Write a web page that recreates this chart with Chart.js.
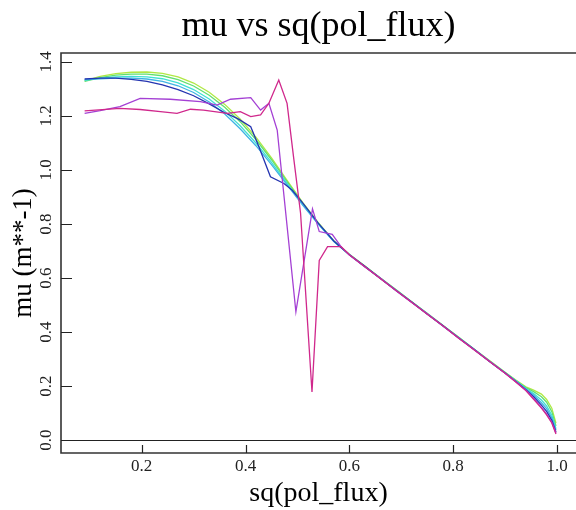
<!DOCTYPE html>
<html>
<head>
<meta charset="utf-8">
<script src="https://cdn.jsdelivr.net/npm/chart.js@4.4.1/dist/chart.umd.min.js"></script>
<style>
  html, body { margin: 0; padding: 0; background: #ffffff; }
  #wrap { width: 576px; height: 510px; }
</style>
</head>
<body>
<div id="wrap"><canvas id="c" width="576" height="510"></canvas></div>
<script>
// ---- data ----
const xGrid = [0.09,0.12,0.15,0.18,0.21,0.24,0.27,0.30,0.33,0.36,0.39,0.42,0.45,0.48,0.51,0.54,0.57,
               0.60,0.63,0.66,0.69,0.72,0.75,0.78,0.81,0.84,0.87,0.90,0.92,0.94,0.955,0.97,0.98,0.99,0.998];
const muLime  = [1.330,1.347,1.357,1.362,1.363,1.358,1.345,1.322,1.288,1.243,1.188,1.122,1.045,0.962,0.880,0.805,0.738,
                 0.688,0.644,0.600,0.556,0.512,0.469,0.425,0.381,0.337,0.294,0.251,0.223,0.197,0.185,0.170,0.150,0.118,0.062];
const muGreen = [1.328,1.342,1.351,1.355,1.355,1.349,1.335,1.311,1.277,1.232,1.178,1.113,1.038,0.957,0.877,0.803,0.737,
                 0.687,0.643,0.599,0.556,0.512,0.468,0.424,0.381,0.337,0.293,0.250,0.221,0.194,0.179,0.160,0.140,0.105,0.052];
const muAqua  = [1.332,1.340,1.345,1.347,1.345,1.338,1.323,1.298,1.263,1.218,1.163,1.100,1.028,0.950,0.873,0.801,0.736,
                 0.687,0.643,0.599,0.555,0.511,0.468,0.424,0.380,0.336,0.292,0.249,0.220,0.191,0.172,0.148,0.126,0.092,0.042];
const muSky   = [1.335,1.338,1.340,1.340,1.337,1.328,1.312,1.287,1.252,1.207,1.152,1.090,1.020,0.945,0.870,0.800,0.735,
                 0.686,0.642,0.598,0.555,0.511,0.467,0.423,0.380,0.336,0.292,0.248,0.219,0.189,0.167,0.138,0.116,0.082,0.036];
const xNavy   = [0.09,0.12,0.15,0.18,0.21,0.24,0.27,0.30,0.33,0.36,0.385,0.41,0.425,0.448,0.474,0.49,0.51,0.54,0.57,
                 0.60,0.63,0.66,0.69,0.72,0.75,0.78,0.81,0.84,0.87,0.90,0.92,0.94,0.955,0.97,0.98,0.99,0.998];
const muNavy  = [1.337,1.340,1.340,1.336,1.328,1.315,1.298,1.275,1.245,1.212,1.190,1.160,1.090,0.975,0.950,0.925,0.878,0.803,0.737,
                 0.686,0.643,0.598,0.554,0.511,0.467,0.424,0.379,0.336,0.291,0.248,0.218,0.186,0.160,0.129,0.106,0.073,0.030];
const xViolet = [0.09,0.12,0.158,0.197,0.255,0.313,0.345,0.371,0.41,0.429,0.445,0.461,0.497,0.529,0.542,0.567,0.584,
                 0.60,0.63,0.66,0.69,0.72,0.75,0.78,0.81,0.84,0.87,0.90,0.92,0.94,0.955,0.97,0.98,0.99,0.998];
const muViolet= [1.210,1.220,1.235,1.265,1.262,1.253,1.240,1.262,1.268,1.222,1.247,1.148,0.475,0.856,0.772,0.762,0.716,
                 0.685,0.641,0.599,0.553,0.509,0.468,0.422,0.379,0.335,0.292,0.247,0.217,0.184,0.154,0.121,0.096,0.066,0.026];
const xMagenta= [0.09,0.158,0.197,0.236,0.268,0.294,0.319,0.365,0.39,0.41,0.429,0.445,0.464,0.48,0.493,0.506,0.528,0.542,0.558,0.584,
                 0.60,0.63,0.66,0.69,0.72,0.75,0.78,0.81,0.84,0.87,0.90,0.92,0.94,0.955,0.97,0.98,0.99,0.998];
const muMagenta=[1.219,1.228,1.224,1.216,1.210,1.225,1.222,1.210,1.216,1.198,1.204,1.247,1.333,1.247,1.040,0.840,0.178,0.665,0.716,0.716,
                 0.686,0.642,0.597,0.554,0.510,0.466,0.423,0.378,0.334,0.291,0.247,0.216,0.183,0.151,0.118,0.093,0.063,0.022];
const xTicks = [0.2,0.4,0.6,0.8,1.0];
const yTicks = [0.0,0.2,0.4,0.6,0.8,1.0,1.2,1.4];

const pts = (xs, ys) => xs.map((x, i) => ({x: x, y: ys[i]}));
const SERIF = "'Liberation Serif', 'Times New Roman', serif";

const series = [
  {label: 'magenta', xs: xMagenta, ys: muMagenta, color: '#d0288c'},
  {label: 'violet',  xs: xViolet,  ys: muViolet,  color: '#a440d4'},
  {label: 'navy',    xs: xNavy,    ys: muNavy,    color: '#2434b0'},
  {label: 'sky',     xs: xGrid,    ys: muSky,     color: '#40b4e4'},
  {label: 'aqua',    xs: xGrid,    ys: muAqua,    color: '#40e0d4'},
  {label: 'green',   xs: xGrid,    ys: muGreen,   color: '#60e070'},
  {label: 'lime',    xs: xGrid,    ys: muLime,    color: '#b0e844'}
];

const framePlugin = {
  id: 'frame',
  beforeDatasetsDraw(chart) {
    const {ctx, chartArea: a, scales: {y}} = chart;
    const y0 = Math.round(y.getPixelForValue(0)) + 0.5;
    ctx.save();
    ctx.strokeStyle = '#222';
    ctx.lineWidth = 1.2;
    ctx.beginPath(); ctx.moveTo(a.left, y0); ctx.lineTo(a.right, y0); ctx.stroke();
    ctx.restore();
  },
  afterDatasetsDraw(chart) {
    const {ctx, chartArea: a, scales: {x, y}} = chart;
    ctx.save();
    ctx.strokeStyle = '#333';
    ctx.lineWidth = 1.6;
    ctx.beginPath();
    ctx.moveTo(a.right + 2, a.top); ctx.lineTo(a.left, a.top);
    ctx.lineTo(a.left, a.bottom); ctx.lineTo(a.right + 2, a.bottom);
    ctx.stroke();
    ctx.lineWidth = 1.2;
    ctx.strokeStyle = '#222';
    ctx.beginPath();
    xTicks.forEach(v => { const px = Math.round(x.getPixelForValue(v)) + 0.5; ctx.moveTo(px, a.bottom); ctx.lineTo(px, a.bottom - 8); });
    yTicks.forEach(v => { const py = Math.round(y.getPixelForValue(v)) + 0.5; ctx.moveTo(a.left, py); ctx.lineTo(a.left + 11, py); });
    ctx.stroke();
    ctx.restore();
  }
};

new Chart(document.getElementById('c'), {
  type: 'line',
  data: {
    datasets: series.map(s => ({
      label: s.label,
      data: pts(s.xs, s.ys),
      borderColor: s.color,
      backgroundColor: s.color,
      borderWidth: 1.3,
      pointRadius: 0,
      tension: 0,
      fill: false
    }))
  },
  options: {
    responsive: false,
    devicePixelRatio: 1,
    animation: false,
    layout: {padding: 0},
    plugins: {
      legend: {display: false},
      tooltip: {enabled: false},
      title: {
        display: true,
        text: 'mu vs sq(pol_flux)',
        fullSize: false,
        color: '#000',
        font: {family: SERIF, size: 36, weight: 'normal', lineHeight: 1.2},
        padding: {top: 5, bottom: 4.8}
      }
    },
    scales: {
      x: {
        type: 'linear',
        min: 0.0445,
        max: 1.0366,
        afterBuildTicks: s => { s.ticks = xTicks.map(v => ({value: v})); },
        afterFit: s => { s.height = 57; },
        grid: {display: false, drawTicks: false},
        border: {display: false},
        ticks: {
          color: '#222',
          font: {family: SERIF, size: 17},
          padding: 3,
          maxRotation: 0,
          autoSkip: false,
          callback: v => v.toFixed(1)
        },
        title: {
          display: true,
          text: 'sq(pol_flux)',
          color: '#000',
          font: {family: SERIF, size: 28, lineHeight: 1.2},
          padding: {top: 0, bottom: 0}
        }
      },
      y: {
        type: 'linear',
        min: -0.0481,
        max: 1.4333,
        afterBuildTicks: s => { s.ticks = yTicks.map(v => ({value: v})); },
        afterFit: s => { s.width = 61; },
        grid: {display: false, drawTicks: false},
        border: {display: false},
        ticks: {
          color: '#222',
          font: {family: SERIF, size: 17},
          padding: 4,
          minRotation: 90,
          maxRotation: 90,
          crossAlign: 'center',
          autoSkip: false,
          callback: v => v.toFixed(1)
        },
        title: {
          display: true,
          text: 'mu (m**-1)',
          color: '#000',
          font: {family: SERIF, size: 27, lineHeight: 1.2},
          padding: {top: 8, bottom: 0}
        }
      }
    }
  },
  plugins: [framePlugin]
});
</script>
</body>
</html>
